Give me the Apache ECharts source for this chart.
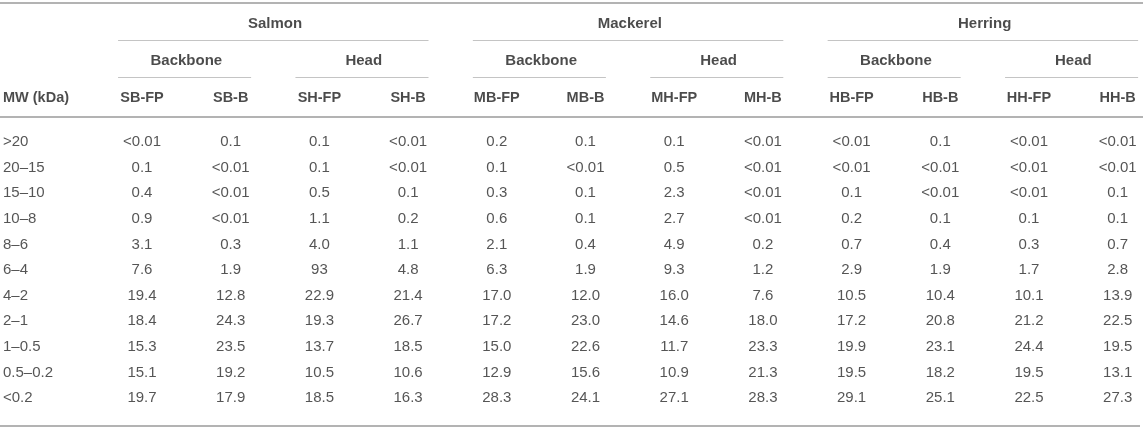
<!DOCTYPE html>
<html>
<head>
<meta charset="utf-8">
<style>
  html, body { margin: 0; padding: 0; background: #fff; }
  #main { width: 1143px; height: 429px; }
</style>
<script src="https://cdn.jsdelivr.net/npm/echarts@6/dist/echarts.min.js"></script>
</head>
<body>
<div id="main"></div>
<script>
// row labels (molecular weight ranges)
var mwRanges = ['>20', '20–15', '15–10', '10–8', '8–6', '6–4', '4–2', '2–1', '1–0.5', '0.5–0.2', '<0.2'];

// fish / tissue / column headings
var fishNames = ['Salmon', 'Mackerel', 'Herring'];
var tissueNames = ['Backbone', 'Head'];
var columnCodes = ['SB-FP', 'SB-B', 'SH-FP', 'SH-B', 'MB-FP', 'MB-B', 'MH-FP', 'MH-B', 'HB-FP', 'HB-B', 'HH-FP', 'HH-B'];

// values per column, top row to bottom row
var sbFP = ['<0.01', '0.1', '0.4', '0.9', '3.1', '7.6', '19.4', '18.4', '15.3', '15.1', '19.7'];
var sbB  = ['0.1', '<0.01', '<0.01', '<0.01', '0.3', '1.9', '12.8', '24.3', '23.5', '19.2', '17.9'];
var shFP = ['0.1', '0.1', '0.5', '1.1', '4.0', '93', '22.9', '19.3', '13.7', '10.5', '18.5'];
var shB  = ['<0.01', '<0.01', '0.1', '0.2', '1.1', '4.8', '21.4', '26.7', '18.5', '10.6', '16.3'];
var mbFP = ['0.2', '0.1', '0.3', '0.6', '2.1', '6.3', '17.0', '17.2', '15.0', '12.9', '28.3'];
var mbB  = ['0.1', '<0.01', '0.1', '0.1', '0.4', '1.9', '12.0', '23.0', '22.6', '15.6', '24.1'];
var mhFP = ['0.1', '0.5', '2.3', '2.7', '4.9', '9.3', '16.0', '14.6', '11.7', '10.9', '27.1'];
var mhB  = ['<0.01', '<0.01', '<0.01', '<0.01', '0.2', '1.2', '7.6', '18.0', '23.3', '21.3', '28.3'];
var hbFP = ['<0.01', '<0.01', '0.1', '0.2', '0.7', '2.9', '10.5', '17.2', '19.9', '19.5', '29.1'];
var hbB  = ['0.1', '<0.01', '<0.01', '0.1', '0.4', '1.9', '10.4', '20.8', '23.1', '18.2', '25.1'];
var hhFP = ['<0.01', '<0.01', '<0.01', '0.1', '0.3', '1.7', '10.1', '21.2', '24.4', '19.5', '22.5'];
var hhB  = ['<0.01', '<0.01', '0.1', '0.1', '0.7', '2.8', '13.9', '22.5', '19.5', '13.1', '27.3'];

var columns = [sbFP, sbB, shFP, shB, mbFP, mbB, mhFP, mhB, hbFP, hbB, hhFP, hhB];

// layout: columns are x = 0..11, rows are y = 0..10 on hidden value axes
var W = 1143, H = 429;
var colX0 = 142, colStep = 88.7;   // pixel centre of first column and spacing
var rowY0 = 142, rowStep = 25.6;   // pixel centre of first row and spacing
function ux(px) { return (px - colX0) / colStep; }
function uy(px) { return (px - rowY0) / rowStep; }

var font = '"Liberation Sans", Arial, Helvetica, sans-serif';
var padL = 0.27, padR = 0.23;

// cell texts
var cellData = [];
columns.forEach(function (col, i) {
    col.forEach(function (v, j) { cellData.push([i, j, v]); });
});
var rowLabelData = mwRanges.map(function (r, j) { return [ux(3), j, r]; });

// header texts
var codeData = columnCodes.map(function (c, i) { return [i, uy(98), c]; });
var tissueData = [];
var fishData = [];
fishNames.forEach(function (f, g) {
    fishData.push([g * 4 + 1.5, uy(24), f]);
    tissueNames.forEach(function (t, k) {
        tissueData.push([g * 4 + k * 2 + 0.5, uy(61), t]);
    });
});
var headLeft = [[ux(3), uy(98), 'MW (kDa)']];

// rules
var ruleData = [
    { coords: [[ux(0), uy(2.5)], [ux(W), uy(2.5)]], lineStyle: { width: 2, color: '#b3b3b3' } },
    { coords: [[ux(0), uy(117)], [ux(W), uy(117)]], lineStyle: { width: 2, color: '#b3b3b3' } },
    { coords: [[ux(0), uy(426)], [ux(1140), uy(426)]], lineStyle: { width: 2, color: '#b3b3b3' } }
];
fishNames.forEach(function (f, g) {
    ruleData.push({ coords: [[g * 4 - padL, uy(40)], [g * 4 + 3 + padR, uy(40)]] });
    tissueNames.forEach(function (t, k) {
        var s = g * 4 + k * 2;
        ruleData.push({ coords: [[s - padL, uy(77)], [s + 1 + padR, uy(77)]] });
    });
});

function textSeries(data, opts) {
    return {
        type: 'scatter',
        symbolSize: 0,
        silent: true,
        data: data,
        label: {
            show: true,
            position: 'inside',
            align: opts.align || 'center',
            verticalAlign: 'middle',
            fontFamily: font,
            fontSize: opts.size || 15,
            fontWeight: opts.bold ? 'bold' : 'normal',
            color: opts.color || '#2b2b2b',
            formatter: function (p) { return p.value[2]; }
        }
    };
}

var myChart = echarts.init(document.getElementById('main'));

var option = {
    animation: false,
    grid: { left: 0, right: 0, top: 0, bottom: 0 },
    xAxis: { type: 'value', min: ux(0), max: ux(W), show: false },
    yAxis: { type: 'value', min: uy(0), max: uy(H), inverse: true, show: false },
    series: [
        {
            type: 'lines',
            coordinateSystem: 'cartesian2d',
            silent: true,
            lineStyle: { color: '#c4c4c4', width: 1.2, opacity: 1 },
            data: ruleData
        },
        textSeries(cellData, {}),
        textSeries(rowLabelData, { align: 'left' }),
        textSeries(codeData, { bold: true, size: 14.5, color: '#1e1e1e' }),
        textSeries(tissueData, { bold: true, size: 15, color: '#1e1e1e' }),
        textSeries(fishData, { bold: true, size: 15, color: '#1e1e1e' }),
        textSeries(headLeft, { align: 'left', bold: true, size: 14.5, color: '#1e1e1e' })
    ]
};

myChart.setOption(option);
</script>
</body>
</html>
